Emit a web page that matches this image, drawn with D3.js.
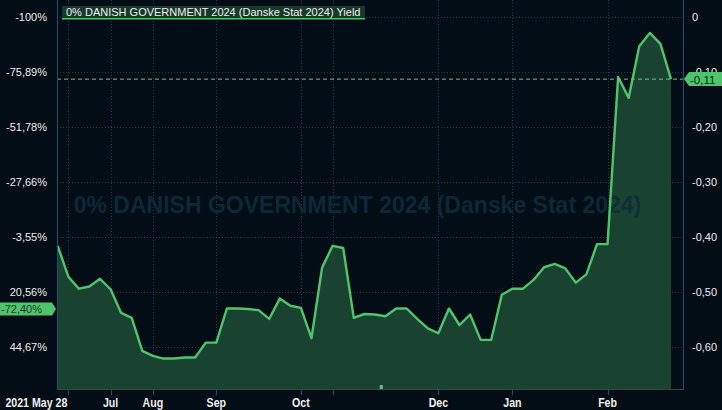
<!DOCTYPE html>
<html>
<head>
<meta charset="utf-8">
<script src="https://cdn.jsdelivr.net/npm/d3@7"></script>
<style>
  html, body { margin: 0; padding: 0; background: #020d15; }
  svg { display: block; }
  text { font-family: "Liberation Sans", Arial, sans-serif; }
</style>
</head>
<body>
<svg id="chart" width="722" height="410"></svg>
<script>
// ---- data ----
const seriesName = "0% DANISH GOVERNMENT 2024 (Danske Stat 2024) Yield";
const watermark = "0% DANISH GOVERNMENT 2024 (Danske Stat 2024)";
const yields = [
  -0.416, -0.472, -0.494, -0.490, -0.476, -0.495, -0.538, -0.547, -0.607, -0.616,
  -0.621, -0.621, -0.619, -0.619, -0.592, -0.592, -0.530, -0.530, -0.531, -0.533,
  -0.549, -0.512, -0.525, -0.529, -0.584, -0.456, -0.416, -0.420, -0.547, -0.540,
  -0.541, -0.544, -0.530, -0.530, -0.549, -0.566, -0.575, -0.530, -0.560, -0.541,
  -0.587, -0.587, -0.505, -0.494, -0.494, -0.478, -0.455, -0.449, -0.457, -0.483,
  -0.468, -0.413, -0.413, -0.109, -0.147, -0.053, -0.029, -0.049, -0.113
];
const xTickIndex = [1, 5, 9, 15, 23, 26, 36, 43, 52];
const xTickLabels = ["2021 May 28", "Jul", "Aug", "Sep", "Oct", "", "Dec", "Jan", "Feb"];
const rightTicks = [0, -0.1, -0.2, -0.3, -0.4, -0.5, -0.6];
const leftTickLabels = ["-100%", "-75,89%", "-51,78%", "-27,66%", "-3,55%", "20,56%", "44,67%"];
const lastLabel = "-0,11";
const leftMarkerLabel = "-72,40%";
const leftMarkerAt = -0.531;
const eventIndex = [30.6];

// ---- layout ----
const W = 722, H = 410;
const plot = { left: 57, right: 683, top: 0, bottom: 389 };
const svg = d3.select("#chart");

const x = d3.scaleLinear().domain([0, yields.length - 1]).range([57.7, 671]);
const y = d3.scaleLinear().domain([0, -0.6]).range([17, 347]);

const green = "#4fc46c";
const fillGreen = "#1a4230";
const gridCol = "#123f58";
const frameCol = "#1b4e70";

// background
svg.append("rect").attr("width", W).attr("height", H).attr("fill", "#020d15");

// grid
const grid = svg.append("g");
grid.selectAll("line.h").data(rightTicks).join("line")
  .attr("x1", plot.left).attr("x2", plot.right)
  .attr("y1", d => Math.round(y(d)) + 0.5).attr("y2", d => Math.round(y(d)) + 0.5)
  .attr("stroke", gridCol).attr("stroke-dasharray", "1,2");
grid.selectAll("line.v").data(xTickIndex).join("line")
  .attr("x1", d => Math.round(x(d)) + 0.5).attr("x2", d => Math.round(x(d)) + 0.5)
  .attr("y1", plot.top).attr("y2", plot.bottom)
  .attr("stroke", gridCol).attr("stroke-dasharray", "1,2");

// area + line
const area = d3.area().x((d, i) => x(i)).y0(plot.bottom).y1(d => y(d));
const line = d3.line().x((d, i) => x(i)).y(d => y(d));
svg.append("path").datum(yields).attr("d", area).attr("fill", fillGreen);

// watermark
svg.append("text")
  .attr("x", 357.5).attr("y", 213)
  .attr("text-anchor", "middle")
  .attr("font-size", 23).attr("font-weight", "bold")
  .attr("fill", "#0e2c3c").attr("fill-opacity", 0.9)
  .text(watermark);

svg.append("path").datum(yields).attr("d", line)
  .attr("fill", "none").attr("stroke", green).attr("stroke-width", 2.4)
  .attr("stroke-linejoin", "round");

// last value dashed line
const lastY = y(yields[yields.length - 1]);
svg.append("line")
  .attr("x1", plot.left).attr("x2", plot.right)
  .attr("y1", lastY).attr("y2", lastY)
  .attr("stroke", "#5fd07a").attr("stroke-dasharray", "4,3");

// frame
svg.append("line").attr("x1", plot.left + 0.5).attr("x2", plot.left + 0.5)
  .attr("y1", 0).attr("y2", plot.bottom).attr("stroke", frameCol);
svg.append("line").attr("x1", plot.right + 0.5).attr("x2", plot.right + 0.5)
  .attr("y1", 0).attr("y2", plot.bottom).attr("stroke", frameCol);
svg.append("line").attr("x1", plot.left).attr("x2", plot.right + 1)
  .attr("y1", plot.bottom + 0.5).attr("y2", plot.bottom + 0.5).attr("stroke", frameCol);

// event marker
svg.selectAll("rect.ev").data(eventIndex).join("rect")
  .attr("x", d => x(d) - 1.5).attr("y", plot.bottom - 4).attr("width", 3).attr("height", 4)
  .attr("fill", "#6bbf7a");

// x axis ticks + labels
const xa = svg.append("g");
xa.selectAll("line").data(xTickIndex).join("line")
  .attr("x1", d => Math.round(x(d)) + 0.5).attr("x2", d => Math.round(x(d)) + 0.5)
  .attr("y1", plot.bottom).attr("y2", plot.bottom + 6)
  .attr("stroke", frameCol);
const xLabels = xa.selectAll("text").data(xTickIndex).join("text")
  .attr("text-anchor", (d, i) => i === 0 ? "end" : "middle")
  .attr("font-weight", "bold").attr("font-size", 12.5)
  .attr("fill", "#f0f0f0")
  .text((d, i) => xTickLabels[i]);
// emulate the condensed face: squeeze horizontally so the first label is 62px wide
const natural = xLabels.nodes()[0].getComputedTextLength();
const sx = Math.min(1, 62 / natural);
xLabels.attr("transform", (d, i) => `translate(${i === 0 ? x(d) - 1 : x(d)},407) scale(${sx},1)`);

// left axis labels
svg.append("g").selectAll("text").data(rightTicks).join("text")
  .attr("x", 47).attr("y", d => y(d) + 4)
  .attr("text-anchor", "end").attr("font-size", 11).attr("fill", "#ececec")
  .text((d, i) => leftTickLabels[i]);

// right axis labels
const fmt = v => v === 0 ? "0" : d3.format(".2f")(v).replace("−", "-").replace(".", ",");
svg.append("g").selectAll("text").data(rightTicks).join("text")
  .attr("x", 692).attr("y", d => y(d) + 4)
  .attr("font-size", 11).attr("fill", "#ececec")
  .text(d => fmt(d));

// right last-value tag
const ty = Math.round(lastY);
svg.append("path")
  .attr("d", `M${plot.right + 1},${ty} L${plot.right + 6},${ty - 7} L${W},${ty - 7} L${W},${ty + 7} L${plot.right + 6},${ty + 7} Z`)
  .attr("fill", green);
svg.append("text").attr("x", 690).attr("y", ty + 4.5)
  .attr("font-size", 11.5).attr("fill", "#0b1a12").text(lastLabel);

// left marker tag
const ly = Math.round(y(leftMarkerAt));
svg.append("path")
  .attr("d", `M0,${ly - 6.5} L52,${ly - 6.5} L56,${ly} L52,${ly + 6.5} L0,${ly + 6.5} Z`)
  .attr("fill", green);
svg.append("text").attr("x", 1).attr("y", ly + 4)
  .attr("font-size", 11).attr("fill", "#1d3a28").text(leftMarkerLabel);

// legend
const lg = svg.append("g");
lg.append("rect").attr("x", 62).attr("y", 6).attr("width", 303).attr("height", 13)
  .attr("fill", "#163a29");
lg.append("rect").attr("x", 62).attr("y", 18).attr("width", 303).attr("height", 1.5)
  .attr("fill", green);
lg.append("text").attr("x", 66).attr("y", 16)
  .attr("font-size", 11).attr("fill", "#f0f0f0").text(seriesName);
</script>
</body>
</html>
